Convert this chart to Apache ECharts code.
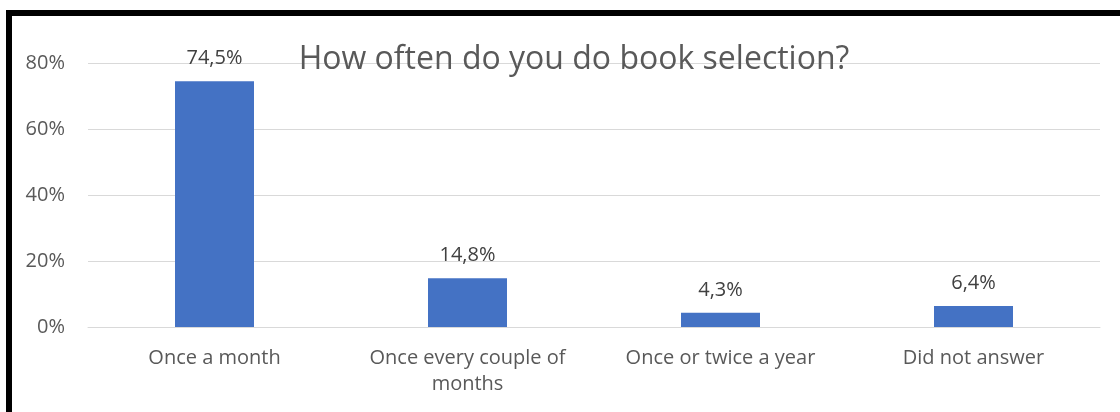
<!DOCTYPE html>
<html>
<head>
<meta charset="utf-8">
<script src="https://cdn.jsdelivr.net/npm/echarts@6/dist/echarts.min.js"></script>
<style>
  html, body {margin: 0; padding: 0; background: #fff;}
  #frame {position: absolute; left: 6px; top: 10px; width: 1120px; height: 420px;
    border-left: 6px solid #000; border-top: 6px solid #000;}
  #chart {position: absolute; left: 0; top: 0; width: 1120px; height: 412px;}
</style>
</head>
<body>
<div id="chart"></div>
<div id="frame"></div>
<script>
const categories = ['Once a month', 'Once every couple of\nmonths', 'Once or twice a year', 'Did not answer'];
const values = [74.5, 14.8, 4.3, 6.4];
const labels = ['74,5%', '14,8%', '4,3%', '6,4%'];
const title = 'How often do you do book selection?';

const font = '"Open Sans", "Noto Sans", sans-serif';
const myChart = echarts.init(document.getElementById('chart'));
myChart.setOption({
  animation: false,
  title: {
    text: title,
    left: 569,
    textAlign: 'center',
    top: 39,
    textStyle: {fontFamily: font, fontSize: 32, fontWeight: 'normal', color: '#595959'}
  },
  grid: {left: 88, right: 20, top: 63, bottom: 85},
  xAxis: {
    type: 'category',
    data: categories,
    axisLine: {lineStyle: {color: '#d9d9d9', width: 1}},
    axisTick: {show: false},
    axisLabel: {fontFamily: font, fontSize: 20, color: '#595959', margin: 18, lineHeight: 26, interval: 0}
  },
  yAxis: {
    type: 'value',
    min: 0,
    max: 80,
    interval: 20,
    axisLine: {show: false},
    axisTick: {show: false},
    splitLine: {lineStyle: {color: '#d9d9d9', width: 1}},
    axisLabel: {fontFamily: font, fontSize: 20, color: '#595959', margin: 23, formatter: '{value}%'}
  },
  series: [{
    type: 'bar',
    data: values,
    barWidth: 79,
    itemStyle: {color: '#4472c4'},
    label: {
      show: true,
      position: 'top',
      distance: 13,
      fontFamily: font,
      fontSize: 20,
      color: '#404040',
      formatter: p => labels[p.dataIndex]
    }
  }]
});
</script>
</body>
</html>
